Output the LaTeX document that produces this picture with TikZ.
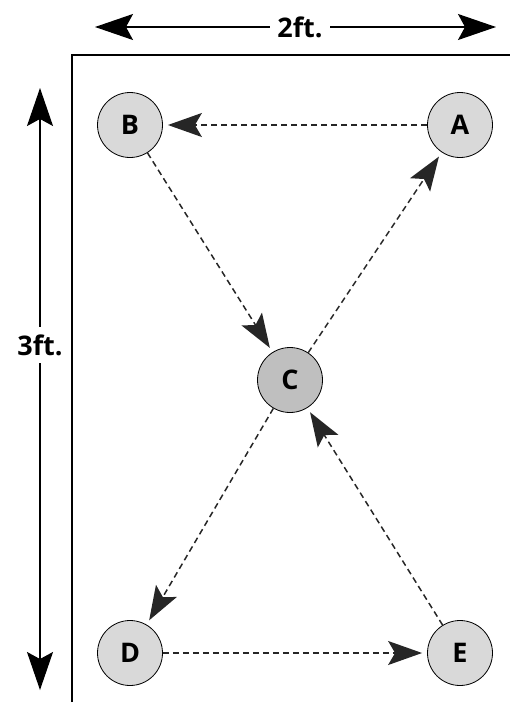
\documentclass[tikz,border=0pt]{standalone}
\usepackage{fontspec}
\setmainfont{Open Sans}
\usetikzlibrary{arrows.meta}
\begin{document}
\begin{tikzpicture}[x=1pt,y=-1pt,
  station/.style={circle,draw=black,line width=0.8pt,fill=gray!30,minimum size=65pt,inner sep=0pt,font=\fontsize{27}{27}\selectfont\bfseries},
  hub/.style={station,fill=gray!50},
  walk/.style={draw=black!85,line width=1.5pt,dash pattern=on 6pt off 4pt,-{Stealth[length=34pt,width=24pt,inset=7pt]},shorten >=5pt},
  dim/.style={draw=black,line width=1.2pt},
  dimtip/.style={dim,{Stealth[length=38pt,width=26pt,inset=7pt]}-{Stealth[length=38pt,width=26pt,inset=7pt]}},
  dimlabel/.style={fill=white,inner sep=7pt,font=\fontsize{27}{27}\selectfont\bfseries}]
\useasboundingbox (0,0) rectangle (510,713);
% room outline
\coordinate (roomTL) at (72,55);
\coordinate (roomTR) at (510,55);
\coordinate (roomBL) at (72,702);
\draw[line width=1.2pt] (roomBL) -- (roomTL) -- (roomTR);
% dimensions
\coordinate (wL) at (95,27);
\coordinate (wR) at (496,27);
\draw[dimtip] (wL) -- (wR);
\node[dimlabel] (w) at (300,27) {2ft.};
\coordinate (hT) at (40,88);
\coordinate (hB) at (40,690);
\draw[dimtip] (hT) -- (hB);
\node[dimlabel] (h) at (40,345) {3ft.};
% stations
\node[station] (A) at (460,125) {A};
\node[station] (B) at (130,125) {B};
\node[hub] (C) at (290,380) {C};
\node[station] (D) at (130,653) {D};
\node[station] (E) at (460,653) {E};
% walking path
\draw[walk] (A) -- (B);
\draw[walk] (B) -- (C);
\draw[walk] (C) -- (A);
\draw[walk] (C) -- (D);
\draw[walk] (E) -- (C);
\draw[walk] (D) -- (E);
\end{tikzpicture}
\end{document}
